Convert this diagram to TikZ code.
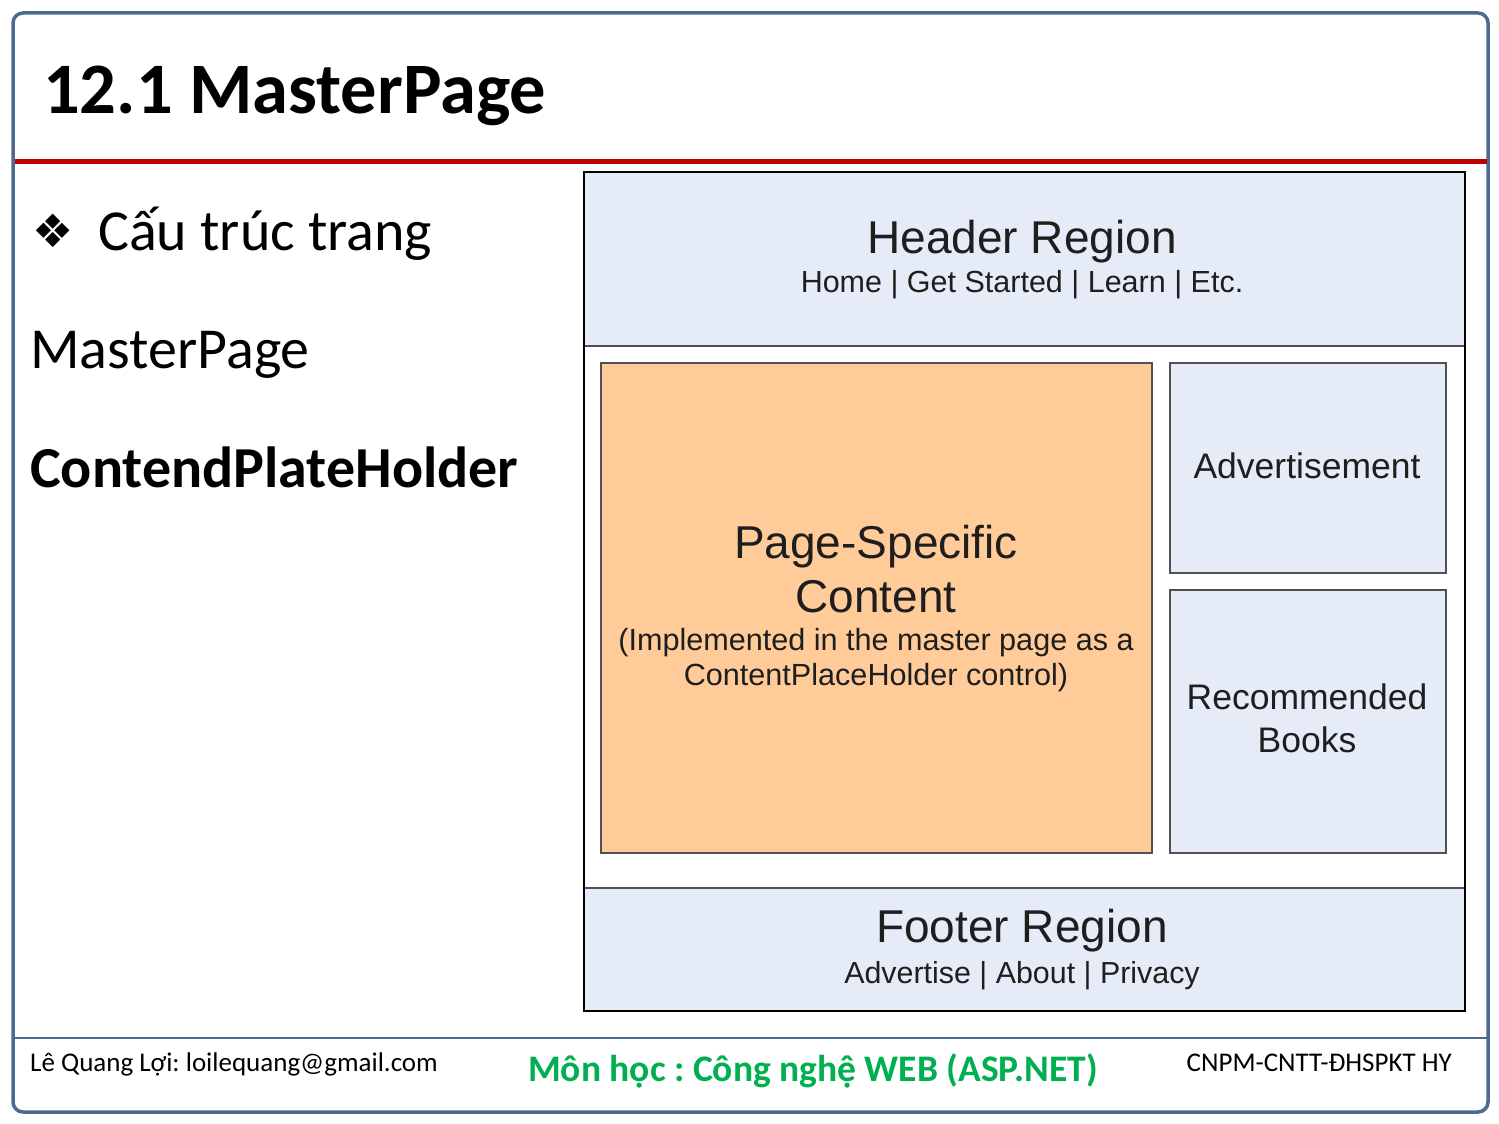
\documentclass[tikz,border=0pt]{standalone}
\usepackage{fontspec}
\setmainfont{Carlito}
\newfontfamily\arialf{Liberation Sans}
\newfontfamily\dejavu{DejaVu Sans}
\frenchspacing
\definecolor{frameblue}{RGB}{79,106,146}
\definecolor{titlered}{RGB}{192,0,0}
\definecolor{regionblue}{RGB}{229,236,247}
\definecolor{contentorange}{RGB}{255,204,153}
\definecolor{boxgray}{RGB}{80,80,80}
\definecolor{txtgray}{RGB}{30,30,30}
\definecolor{footgreen}{RGB}{0,176,80}
\newcommand{\fsz}[2]{\fontsize{#1}{#2}\selectfont}
\tikzset{
  region/.style={draw=boxgray, line width=1.8pt, anchor=north west, inner sep=0pt, outer sep=0pt},
  dtext/.style={anchor=base, inner sep=0pt, text=txtgray, font=\arialf},
  ltext/.style={anchor=base west, inner sep=0pt},
}
\begin{document}
\begin{tikzpicture}[x=1pt,y=-1pt]
\useasboundingbox[fill=white] (0,0) rectangle (1499,1124);
% slide frame
\draw[frameblue, line width=3.5pt, rounded corners=10pt] (13,13) rectangle (1488,1112);
\draw[titlered, line width=5pt] (14.5,161) -- (1486.5,161);
\draw[frameblue, line width=1.5pt] (14.5,1038) -- (1486.5,1038);
% title
\node[ltext, font=\bfseries\fsz{72.5}{80}] (title) at (43,113) {12.1 MasterPage};
% left text
\node[anchor=center, inner sep=0pt, font=\dejavu\fsz{46}{50}] (bullet) at (53,231) {❖};
\node[ltext, font=\fsz{58}{64}] (cau) at (98,250) {Cấu trúc trang};
\node[ltext, font=\fsz{58}{64}] (mp) at (30,368) {MasterPage};
\node[ltext, font=\bfseries\fsz{58}{64}] (cph) at (30,487) {ContendPlateHolder};
% diagram
\node[region, fill=white, minimum width=881, minimum height=839] (outer) at (584,172) {};
\node[region, fill=regionblue, minimum width=881, minimum height=174] (header) at (584,172) {};
\node[region, fill=regionblue, minimum width=881, minimum height=123] (footer) at (584,888) {};
\node[region, fill=contentorange, minimum width=551, minimum height=490] (content) at (601,363) {};
\node[region, fill=regionblue, minimum width=276, minimum height=210] (adv) at (1170,363) {};
\node[region, fill=regionblue, minimum width=276, minimum height=263] (rec) at (1170,590) {};
\draw[black, line width=2.5pt] (outer.north west) rectangle (outer.south east);
% diagram texts
\node[dtext, font=\arialf\fsz{46}{50}] (ht) at (1022,253) {Header Region};
\node[dtext, font=\arialf\fsz{30.5}{34}] (hl) at (1022,292) {Home | Get Started | Learn | Etc.};
\node[dtext, font=\arialf\fsz{46}{50}] (pt1) at (876,558) {Page-Specific};
\node[dtext, font=\arialf\fsz{46}{50}] (pt2) at (876,612) {Content};
\node[dtext, font=\arialf\fsz{30.6}{34}] (pt3) at (876,650) {(Implemented in the master page as a};
\node[dtext, font=\arialf\fsz{30.6}{34}] (pt4) at (876,685) {ContentPlaceHolder control)};
\node[dtext, font=\arialf\fsz{35.5}{40}] (at) at (1307,478) {Advertisement};
\node[dtext, font=\arialf\fsz{35.5}{40}] (rt1) at (1307,709) {Recommended};
\node[dtext, font=\arialf\fsz{35.5}{40}] (rt2) at (1307,752) {Books};
\node[dtext, font=\arialf\fsz{46}{50}] (ft) at (1022,942) {Footer Region};
\node[dtext, font=\arialf\fsz{30.4}{34}] (fl) at (1022,983) {Advertise | About | Privacy};
% slide footer
\node[ltext, font=\fsz{27}{30}] (author) at (30,1071) {Lê Quang Lợi: loilequang@gmail.com};
\node[anchor=base, inner sep=0pt, text=footgreen, font=\bfseries\fsz{37.5}{42}] (course) at (813,1081) {Môn học : Công nghệ WEB (ASP.NET)};
\node[anchor=base east, inner sep=0pt, font=\fsz{27}{30}] (dept) at (1452,1071) {CNPM-CNTT-ĐHSPKT HY};
\end{tikzpicture}
\end{document}
